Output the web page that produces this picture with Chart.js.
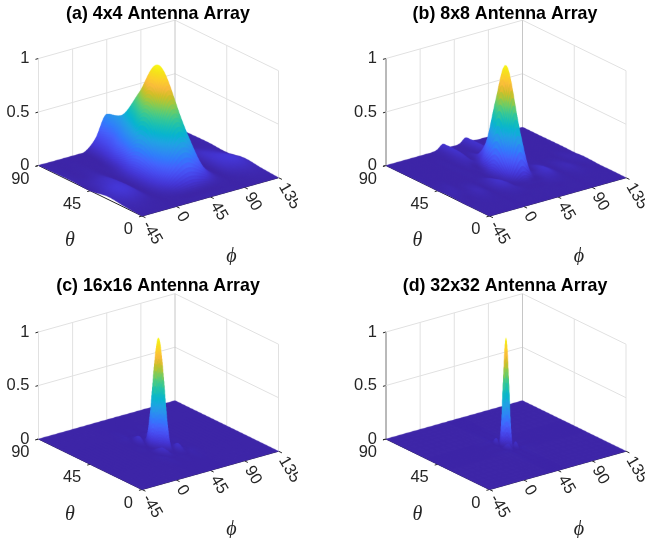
<!DOCTYPE html>
<html>
<head>
<meta charset="utf-8">
<style>
html,body{margin:0;padding:0;background:#fff;overflow:hidden;width:646px;height:538px}
canvas{position:absolute;filter:blur(0.35px)}
</style>
<script src="https://cdn.jsdelivr.net/npm/chart.js@4/dist/chart.umd.min.js"></script>
</head>
<body>
<canvas id="c0" width="298" height="265" style="left:0;top:0;width:298px;height:265px"></canvas>
<canvas id="c1" width="298" height="265" style="left:347px;top:0;width:298px;height:265px"></canvas>
<canvas id="c2" width="298" height="265" style="left:0;top:273px;width:298px;height:265px"></canvas>
<canvas id="c3" width="298" height="265" style="left:347px;top:273px;width:298px;height:265px"></canvas>
<script>
const titles = ['(a) 4x4 Antenna Array','(b) 8x8 Antenna Array','(c) 16x16 Antenna Array','(d) 32x32 Antenna Array'];
const phiTicks = [-45,0,45,90,135];
const thetaTicks = [0,45,90];
const zTicks = [0,0.5,1];

// (a) 4x4 : rows are theta, columns are phi
const phiA = [-45,-30,-15,0,15,30,45,60,75,90,105,120,135];
const thetaA = [0,15,30,45,60,75,90];
const zA = [
 [0,0,0,0,0,0,0,0,0,0,0,0,0],
 [.012,.017,.009,0,.012,.037,.053,.037,.012,0,.009,.017,.012],
 [.028,.066,.05,0,.11,.40,.58,.40,.11,0,.05,.066,.028],
 [0,.034,.044,0,.15,.65,.99,.65,.15,0,.044,.034,0],
 [.008,.004,.012,0,.06,.38,.68,.38,.06,0,.012,.004,.008],
 [.006,0,.002,0,.013,.17,.38,.17,.013,0,.002,0,.006],
 [.002,0,0,0,.002,.10,.30,.10,.002,0,0,0,.002]
];

// (b) 8x8 : columns run from phi -45 to the ridge at 45, the far half mirrors them
const phiB = [-45,-37.5,-30,-22.5,-15,-7.5,0,7.5,15,22.5,30,37.5,45,52.5,60,67.5,75,82.5,90,97.5,105,112.5,120,127.5,135];
const thetaB = [0,7.5,15,22.5,30,37.5,45,52.5,60,67.5,75,82.5,90];
const zBHalf = [
 [0,0,0,0,0,0,0,0,0,0,0,0,0],
 [.001,.001,.001,.001,.001,.001,0,.001,.001,.001,.001,.001,.002],
 [.001,.001,.001,.001,.002,.001,0,.001,.002,.001,.001,.001,.001],
 [0,0,.001,.005,.008,.004,0,.006,.015,.015,.005,0,0],
 [.004,.004,0,.008,.02,.013,0,.022,.05,.028,0,.04,.08],
 [.006,.012,.007,.002,.011,.01,0,.016,.033,.003,.068,.38,.59],
 [0,.005,.008,0,.001,.001,0,.002,.004,.002,.14,.64,.99],
 [.002,0,.001,0,0,0,0,.001,0,0,.056,.38,.67],
 [.002,0,0,0,0,0,0,.002,0,.004,0,.097,.25],
 [.001,0,0,0,0,0,0,.002,0,.015,.024,.005,.06],
 [0,0,0,0,0,0,0,.001,0,.017,.047,.003,.012],
 [0,0,0,0,0,0,0,0,0,.013,.052,.008,.003],
 [0,0,0,0,0,0,0,0,0,.012,.05,.011,.003]
];

// (c), (d) : one quadrant around the peak at phi 45, theta 45; outside it the floor is flat
const zPeakQuadrant = [
 [1,.815,.433,.135,.019,0,0,.001,.002],
 [.815,.658,.331,.09,.007,0,.001,0,.001],
 [.433,.331,.137,.018,.001,.010,.006,.001,0],
 [.135,.09,.018,.002,.025,.031,.014,.002,0],
 [.019,.007,.001,.025,.047,.035,.011,.001,0],
 [0,0,.010,.031,.035,.017,.002,.001,.002],
 [0,.001,.006,.014,.011,.002,.002,.006,.005],
 [.001,0,.001,.002,.001,.001,.006,.008,.005],
 [.002,.001,0,0,0,.002,.005,.005,.002]
];
const phiC = [-45,-15,15,25,27.5,30,32.5,35,37.5,40,42.5,45,47.5,50,52.5,55,57.5,60,62.5,65,75,105,135];
const thetaC = [0,15,25,27.5,30,32.5,35,37.5,40,42.5,45,47.5,50,52.5,55,57.5,60,62.5,65,75,90];
const phiD = [-45,-15,15,35,36.25,37.5,38.75,40,41.25,42.5,43.75,45,46.25,47.5,48.75,50,51.25,52.5,53.75,55,75,105,135];
const thetaD = [0,15,35,36.25,37.5,38.75,40,41.25,42.5,43.75,45,46.25,47.5,48.75,50,51.25,52.5,53.75,55,75,90];

const parula = [[.2422,.1504,.6603],[.2706,.2147,.8364],[.2813,.3006,.9414],[.2699,.3892,.9906],[.1963,.4847,.9892],[.1687,.5703,.9359],[.1248,.6459,.8883],[.0297,.7082,.8163],[.0964,.75,.712],[.2161,.7843,.5923],[.3909,.8029,.4354],[.6174,.7876,.2612],[.8203,.7498,.1535],[.9728,.7298,.2394],[.9892,.8096,.1767],[.9625,.8906,.1029],[.9769,.9839,.0805]];

function mirrorCols(rows){ return rows.map(r => [...r, ...r.slice(0,-1).reverse()]); }
function peakGrid(q, nPhi, nTheta, padPhi, padTheta){
  const row = r => { const full = [...r.slice(1).reverse(), ...r];
    return [...Array(padPhi).fill(0), ...full, ...Array(nPhi-padPhi-full.length).fill(0)]; };
  const mid = [...q.slice(1).reverse(), ...q].map(row);
  const blank = () => Array(nPhi).fill(0);
  const out = [];
  for(let i=0;i<padTheta;i++) out.push(blank());
  out.push(...mid);
  while(out.length<nTheta) out.push(blank());
  return out;
}
const zB = mirrorCols(zBHalf);
const zC = peakGrid(zPeakQuadrant, phiC.length, thetaC.length, 3, 2);
const zD = peakGrid(zPeakQuadrant, phiD.length, thetaD.length, 3, 2);

// view: oblique projection of the (phi, theta, z) box onto the plane of the two hidden scales
const view = {fx:142, fy:216, phiX:136.5, phiY:-38.3, thetaX:-103.5, thetaY:-50.5, zY:-107};
function project(phi, theta, z){
  const a=(phi+45)/180, b=theta/90;
  return {x:view.fx+a*view.phiX+b*view.thetaX, y:view.fy+a*view.phiY+b*view.thetaY+z*view.zY};
}
function slopes(xs, ys){
  const n=xs.length, m=[];
  for(let i=0;i<n;i++){
    const l=Math.max(i-1,0), r=Math.min(i+1,n-1);
    m.push((ys[r]-ys[l])/(xs[r]-xs[l]));
  }
  return m;
}
function refineAxis(xs, n){
  const out=[];
  for(let i=0;i<xs.length-1;i++) for(let k=0;k<n;k++) out.push(xs[i]+(xs[i+1]-xs[i])*k/n);
  out.push(xs[xs.length-1]);
  return out;
}
function smoothLine(xs, ys, n){
  const m=slopes(xs,ys), out=[];
  for(let i=0;i<xs.length-1;i++){
    const h=xs[i+1]-xs[i];
    for(let k=0;k<n;k++){
      const t=k/n,t2=t*t,t3=t2*t;
      out.push((2*t3-3*t2+1)*ys[i]+(t3-2*t2+t)*h*m[i]+(-2*t3+3*t2)*ys[i+1]+(t3-t2)*h*m[i+1]);
    }
  }
  out.push(ys[ys.length-1]);
  return out;
}
function buildMesh(phis, thetas, z, n){
  const rows=z.map(r=>smoothLine(phis,r,n));
  const finePhi=refineAxis(phis,n), fineTheta=refineAxis(thetas,n);
  const cols=finePhi.map((_,j)=>smoothLine(thetas,rows.map(r=>r[j]),n));
  const grid=fineTheta.map((_,i)=>finePhi.map((_,j)=>Math.min(1,Math.max(0,cols[j][i]))));
  return {finePhi,fineTheta,grid};
}
function colorOf(v){
  const p=Math.min(.99999,Math.max(0,v))*(parula.length-1), i=Math.floor(p), f=p-i;
  const a=parula[i], b=parula[i+1];
  return 'rgb('+[0,1,2].map(k=>Math.round(255*(a[k]+(b[k]-a[k])*f))).join(',')+')';
}

const SS=3;
const surfacePlugin = {
  id:'surface3d',
  afterDatasetsDraw(chart){
    const ds=chart.data.datasets.find(d=>d.surface); if(!ds) return;
    const {finePhi,fineTheta,grid}=ds.surface, X=chart.scales.x, Y=chart.scales.y;
    const off=document.createElement('canvas'); off.width=chart.width*SS; off.height=chart.height*SS;
    const ctx=off.getContext('2d');
    const px=(i,j)=>{const p=project(finePhi[j],fineTheta[i],grid[i][j]);return [X.getPixelForValue(p.x)*SS,Y.getPixelForValue(p.y)*SS];};
    ctx.lineWidth=1.6; ctx.lineJoin='round';
    for(let i=fineTheta.length-2;i>=0;i--){
      for(let j=finePhi.length-2;j>=0;j--){
        const c=colorOf((grid[i][j]+grid[i+1][j]+grid[i][j+1]+grid[i+1][j+1])/4);
        const a=px(i,j),b=px(i,j+1),d=px(i+1,j+1),e=px(i+1,j);
        ctx.beginPath(); ctx.moveTo(a[0],a[1]); ctx.lineTo(b[0],b[1]); ctx.lineTo(d[0],d[1]); ctx.lineTo(e[0],e[1]); ctx.closePath();
        ctx.fillStyle=c; ctx.strokeStyle=c; ctx.fill(); ctx.stroke();
      }
    }
    const g=chart.ctx; g.save(); g.imageSmoothingEnabled=true; g.imageSmoothingQuality='high';
    g.drawImage(off,0,0,chart.width,chart.height); g.restore();
  },
  afterDraw(chart){
    const X=chart.scales.x, Y=chart.scales.y, ctx=chart.ctx;
    const at=p=>[X.getPixelForValue(p.x),Y.getPixelForValue(p.y)];
    ctx.save();
    ctx.fillStyle='#262626'; ctx.font='16.5px "Liberation Sans"'; ctx.textBaseline='middle';
    ctx.textAlign='right';
    zTicks.forEach(t=>{const [x,y]=at(project(-45,90,t)); ctx.fillText(String(t),x-9,y);});
    thetaTicks.forEach(t=>{const [x,y]=at(project(-45,t,0)); ctx.fillText(String(t),x-9,y+13.5);});
    ctx.textAlign='left';
    phiTicks.forEach(t=>{
      const [x,y]=at(project(t,0,0));
      ctx.save(); ctx.translate(x+4,y+6.5); ctx.rotate(60*Math.PI/180); ctx.fillText(String(t),0,0); ctx.restore();
    });
    ctx.textAlign='center'; ctx.font='italic 20px "Liberation Serif"';
    const l=at({x:70,y:241}), r=at({x:231.5,y:256.5});
    ctx.fillText('\u03B8',l[0],l[1]); ctx.fillText('\u03D5',r[0],r[1]);
    ctx.restore();
  }
};

function lineSet(points,color,width){
  return {type:'scatter',data:points,showLine:true,borderColor:color,borderWidth:width,pointRadius:0,fill:false,clip:false,tension:0};
}
function frameSets(){
  const sets=[], light='#e1e1e1', dark='#262626';
  const p=project;
  phiTicks.forEach(t=>{ sets.push(lineSet([p(t,90,0),p(t,90,1)], t===135?'#c6c6c6':light,1)); });
  thetaTicks.forEach(t=>{ if(t!==90) sets.push(lineSet([p(135,t,0),p(135,t,1)],light,1)); });
  zTicks.forEach(t=>{ if(t>0){
    sets.push(lineSet([p(-45,90,t),p(135,90,t)],light,1));
    sets.push(lineSet([p(135,90,t),p(135,0,t)],light,1));
  }});
  sets.push(lineSet([p(-45,90,0),p(-45,90,1)],dark,1));
  sets.push(lineSet([p(-45,90,0),p(-45,0,0)],dark,1));
  sets.push(lineSet([p(-45,0,0),p(135,0,0)],dark,1));
  zTicks.forEach(t=>sets.push(lineSet([p(-45,90,t),p(-49,90,t)],dark,1)));
  thetaTicks.forEach(t=>sets.push(lineSet([p(-45,t,0),p(-49,t,0)],dark,1)));
  phiTicks.forEach(t=>sets.push(lineSet([p(t,0,0),p(t,-3,0)],dark,1)));
  return sets;
}

const panels=[
 {phis:phiA,thetas:thetaA,z:zA,n:14,offX:0,offY:0,titleTop:4},
 {phis:phiB,thetas:thetaB,z:zB,n:8,offX:.5,offY:0,titleTop:4},
 {phis:phiC,thetas:thetaC,z:zC,n:6,offX:0,offY:.5,titleTop:3},
 {phis:phiD,thetas:thetaD,z:zD,n:4,offX:.5,offY:.5,titleTop:3}
];
const W=298,H=265,padL=18,areaTop=28;
panels.forEach((pn,idx)=>{
  const mesh=buildMesh(pn.phis,pn.thetas,pn.z,pn.n);
  const raw=[];
  pn.thetas.forEach((t,i)=>pn.phis.forEach((f,j)=>raw.push(project(f,t,pn.z[i][j]))));
  const surfaceSet={type:'scatter',label:'surface',data:raw,pointRadius:0,showLine:false,clip:false,surface:mesh};
  new Chart(document.getElementById('c'+idx),{
    type:'scatter',
    data:{datasets:[...frameSets(),surfaceSet]},
    options:{
      responsive:false,animation:false,events:[],
      layout:{padding:{left:padL,top:0,right:0,bottom:0}},
      plugins:{
        legend:{display:false},tooltip:{enabled:false},
        title:{display:true,text:titles[idx],color:'#000',font:{family:'"Liberation Sans"',size:17.8,weight:'bold',lineHeight:'20px'},
          padding:{top:pn.titleTop,bottom:8-pn.titleTop}}
      },
      scales:{
        x:{type:'linear',display:false,min:padL-pn.offX,max:W-pn.offX},
        y:{type:'linear',display:false,reverse:true,min:areaTop-pn.offY,max:H-pn.offY}
      }
    },
    plugins:[surfacePlugin]
  });
});
</script>
</body>
</html>
